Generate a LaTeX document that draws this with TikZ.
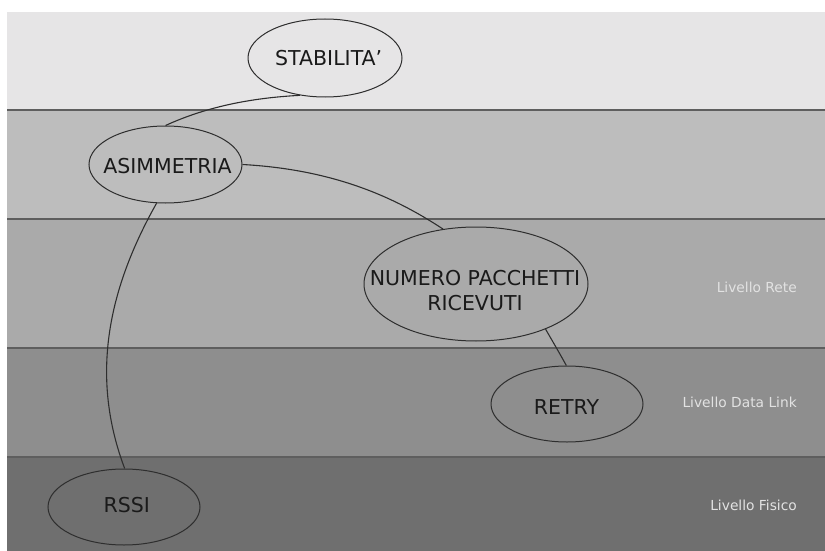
\documentclass[tikz,border=0pt]{standalone}
\usepackage{fontspec}
\setmainfont{DejaVu Sans}
\usetikzlibrary{shapes.geometric}
\definecolor{bandA}{HTML}{E6E5E6}
\definecolor{bandB}{HTML}{BDBDBD}
\definecolor{bandC}{HTML}{AAAAAA}
\definecolor{bandD}{HTML}{8E8E8E}
\definecolor{bandE}{HTML}{6F6F6F}
\definecolor{sepc}{HTML}{5E5E5E}
\definecolor{edgec}{HTML}{2E2E2E}
\definecolor{textc}{HTML}{1A1A1A}
\definecolor{layc}{HTML}{E2E2E2}
\begin{document}
\begin{tikzpicture}[x=1pt,y=-1pt,
  ell/.style={draw=edgec, line width=1pt, ellipse, inner sep=0pt},
  txt/.style={font=\fontsize{20.5}{25}\selectfont, text=textc, align=center, inner sep=0pt},
  lay/.style={font=\fontsize{13.8}{16}\selectfont, text=layc, anchor=east, inner sep=0pt},
  link/.style={draw=edgec, line width=1.1pt},
  sep/.style={draw=sepc, line width=1.8pt}]
\useasboundingbox (0,0) rectangle (825,551);
\fill[white] (0,0) rectangle (825,551);
% bands
\fill[bandA] (7,12) rectangle (825,110);
\fill[bandB] (7,110) rectangle (825,219);
\fill[bandC] (7,219) rectangle (825,348);
\fill[bandD] (7,348) rectangle (825,457);
\fill[bandE] (7,457) rectangle (825,551);
\draw[sep] (7,110) -- (825,110);
\draw[sep] (7,219) -- (825,219);
\draw[sep] (7,348) -- (825,348);
\draw[sep] (7,457) -- (825,457);
% layer labels
\node[lay] (lrete) at (797,287) {Livello Rete};
\node[lay] (ldata) at (797,402) {Livello Data Link};
\node[lay] (lfis) at (797,505.4) {Livello Fisico};
% ellipses
\node[ell, minimum width=154pt, minimum height=78pt] (stab) at (325,58) {};
\node[ell, minimum width=153pt, minimum height=77pt] (asim) at (165.5,164.5) {};
\node[ell, minimum width=224pt, minimum height=114pt] (num) at (476,284) {};
\node[ell, minimum width=152pt, minimum height=76pt] (retry) at (567,404) {};
\node[ell, minimum width=152pt, minimum height=76pt] (rssi) at (124,507) {};
% texts
\node[txt] (stabt) at (328.7,58) {STABILITA'};
\node[txt] (asimt) at (167.5,166.5) {ASIMMETRIA};
\node[txt] (numt) at (475,290.5) {NUMERO PACCHETTI\\RICEVUTI};
\node[txt] (retryt) at (566.5,406.7) {RETRY};
\node[txt] (rssit) at (126.7,505) {RSSI};
% connectors
\draw[link] (asim.90) .. controls (206,107) and (250,98) .. (stab.236);
\draw[link] (asim.0) .. controls (332,169.5) and (393,196) .. (num.121);
\draw[link] (num.327) .. controls (553,342) and (560,354) .. (retry.91);
\draw[link] (asim.257) .. controls (106.6,292) and (90.6,378) .. (rssi.89);
\end{tikzpicture}
\end{document}
